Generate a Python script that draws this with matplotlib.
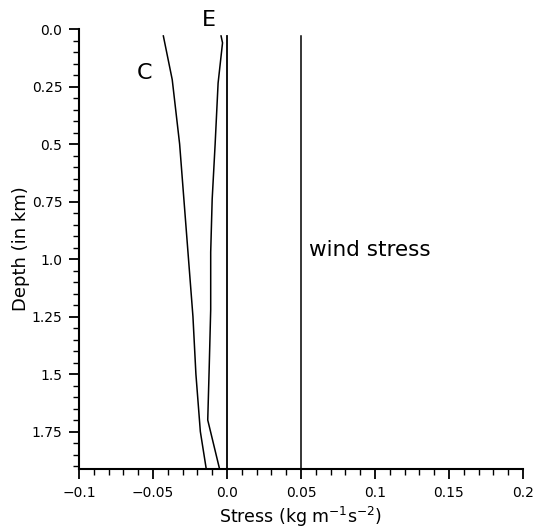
import numpy as np
import matplotlib
matplotlib.use('Agg')
import matplotlib.pyplot as plt
from matplotlib.ticker import MultipleLocator, FixedFormatter, FixedLocator

# depth in km, stress in kg m^-1 s^-2
depth_c = [0.03, 0.22, 0.5, 0.75, 1.0, 1.25, 1.5, 1.75, 1.913]
stress_c = [-0.043, -0.037, -0.032, -0.029, -0.026, -0.023, -0.021, -0.018, -0.014]

depth_e = [0.03, 0.06, 0.235, 0.5, 0.74, 0.97, 1.22, 1.47, 1.70, 1.913]
stress_e = [-0.004, -0.003, -0.006, -0.008, -0.010, -0.011, -0.011, -0.012, -0.013, -0.005]

depth_zero = [0.03, 1.913]
stress_zero = [0.0, 0.0]

depth_wind = [0.03, 1.913]
stress_wind = [0.05, 0.05]

xticks = [-0.1, -0.05, 0.0, 0.05, 0.1, 0.15, 0.2]
xticklabels = ['\u22120.1', '\u22120.05', '0.0', '0.05', '0.1', '0.15', '0.2']
yticks = [0.0, 0.25, 0.5, 0.75, 1.0, 1.25, 1.5, 1.75]
yticklabels = ['0.0', '0.25', '0.5', '0.75', '1.0', '1.25', '1.5', '1.75']

plt.rcParams['font.family'] = ['DejaVu Sans']

fig = plt.figure(figsize=(5.43, 5.28), dpi=100)
ax = fig.add_axes([0.1455, 0.1117, 0.8175, 0.8333])

ax.plot(stress_c, depth_c, color='black', lw=1.1)
ax.plot(stress_e, depth_e, color='black', lw=1.1)
ax.plot(stress_zero, depth_zero, color='black', lw=1.3)
ax.plot(stress_wind, depth_wind, color='black', lw=1.1)

ax.set_xlim(-0.1, 0.2)
ax.set_ylim(1.913, 0.0)

ax.spines['top'].set_visible(False)
ax.spines['right'].set_visible(False)
ax.spines['left'].set_linewidth(1.5)
ax.spines['bottom'].set_linewidth(1.5)

ax.xaxis.set_major_locator(FixedLocator(xticks))
ax.xaxis.set_major_formatter(FixedFormatter(xticklabels))
ax.xaxis.set_minor_locator(MultipleLocator(0.01))
ax.yaxis.set_major_locator(FixedLocator(yticks))
ax.yaxis.set_major_formatter(FixedFormatter(yticklabels))
ax.yaxis.set_minor_locator(MultipleLocator(0.05))

ax.tick_params(which='major', direction='out', length=7, width=1.3, labelsize=10, pad=5)
ax.tick_params(which='minor', direction='out', length=4, width=1.0)

ax.text(-0.0555, 0.19, 'C', fontsize=16, ha='center', va='center')
ax.text(-0.0122, -0.04, 'E', fontsize=16, ha='center', va='center', clip_on=False)
ax.text(0.0555, 0.96, 'wind stress', fontsize=15.5, ha='left', va='center')

ax.set_xlabel('Stress (kg m$^{-1}$s$^{-2}$)', fontsize=12.5, labelpad=4)
ax.set_ylabel('Depth (in km)', fontsize=13, labelpad=1)

fig.savefig('out.png', dpi=100)
